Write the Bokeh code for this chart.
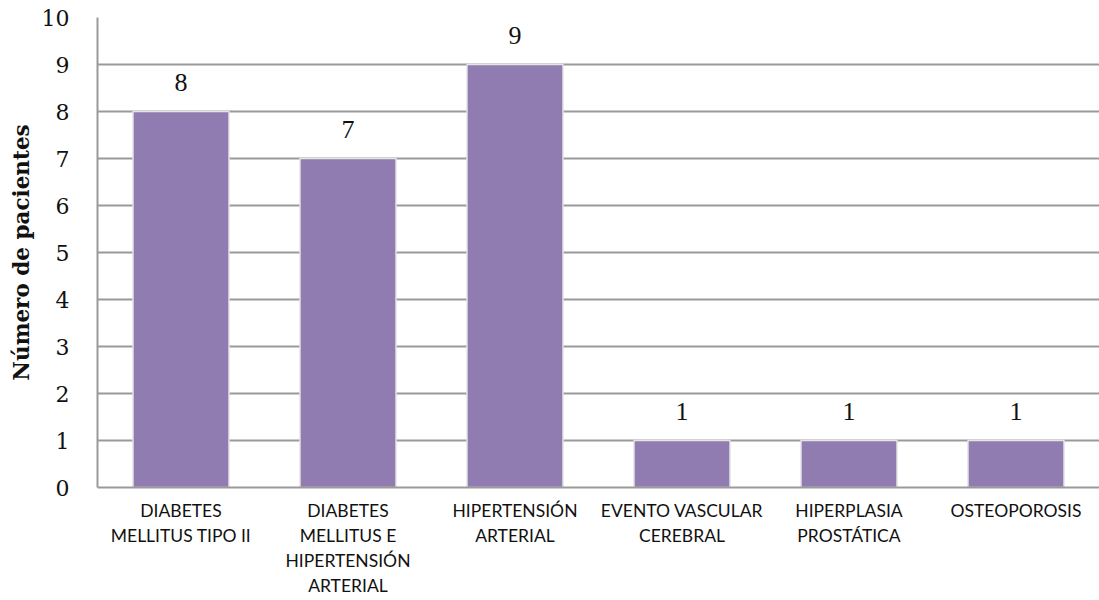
from bokeh.plotting import figure
from bokeh.models import ColumnDataSource, FactorRange, Range1d, SingleIntervalTicker, LabelSet
from bokeh.embed import file_html
from bokeh.resources import INLINE

# Patient counts per diagnosis (names wrapped as shown under the axis)
categories = [
    "DIABETES\nMELLITUS TIPO II",
    "DIABETES\nMELLITUS E\nHIPERTENSIÓN\nARTERIAL",
    "HIPERTENSIÓN\nARTERIAL",
    "EVENTO VASCULAR\nCEREBRAL",
    "HIPERPLASIA\nPROSTÁTICA",
    "OSTEOPOROSIS",
]
pacientes = [8, 7, 9, 1, 1, 1]

source = ColumnDataSource(data=dict(
    cat=categories,
    n=pacientes,
    label=[str(v) for v in pacientes],
))

p = figure(
    width=1099, height=600,
    x_range=FactorRange(factors=categories, range_padding=0),
    y_range=Range1d(0, 10),
    output_backend="svg", toolbar_location=None,
    min_border_left=97, min_border_right=0,
    min_border_top=17, min_border_bottom=113,
)
p.outline_line_color = None
p.background_fill_color = "white"
p.border_fill_color = "white"

p.vbar(x="cat", top="n", width=0.575, source=source,
       fill_color="#917CB2", line_color="#e4e4e4", line_width=1.5)

# value labels above bars
labels = LabelSet(x="cat", y="n", text="label", source=source,
                  text_align="center", text_baseline="middle",
                  y_offset=29, text_font="DejaVu Serif",
                  text_font_size="26px", text_color="#111111")
p.add_layout(labels)

# Y axis
p.yaxis.ticker = SingleIntervalTicker(interval=1)
p.yaxis.axis_label = "Número de pacientes"
p.yaxis.axis_label_text_font = "DejaVu Serif"
p.yaxis.axis_label_text_font_style = "bold"
p.yaxis.axis_label_text_font_size = "21.5px"
p.yaxis.axis_label_text_color = "#111111"
p.yaxis.axis_label_standoff = 5
p.yaxis.major_label_text_font = "DejaVu Serif"
p.yaxis.major_label_text_font_size = "22px"
p.yaxis.major_label_text_color = "#111111"
p.yaxis.major_label_standoff = 22
p.yaxis.major_tick_line_color = None
p.yaxis.minor_tick_line_color = None
p.yaxis.axis_line_color = "#9a9a9a"
p.yaxis.axis_line_width = 2

# X axis
p.xaxis.major_label_text_font = "Lato"
p.xaxis.major_label_text_font_size = "17.5px"
p.xaxis.major_label_text_color = "#111111"
p.xaxis.major_label_text_line_height = 1.2
p.xaxis.major_label_standoff = 12
p.xaxis.major_tick_line_color = None
p.xaxis.major_tick_out = 0
p.xaxis.axis_line_color = "#9a9a9a"
p.xaxis.axis_line_width = 2

p.xgrid.grid_line_color = None
p.ygrid.grid_line_color = "#9a9a9a"
p.ygrid.grid_line_width = 2

open("out.html", "w").write(file_html(p, INLINE))
